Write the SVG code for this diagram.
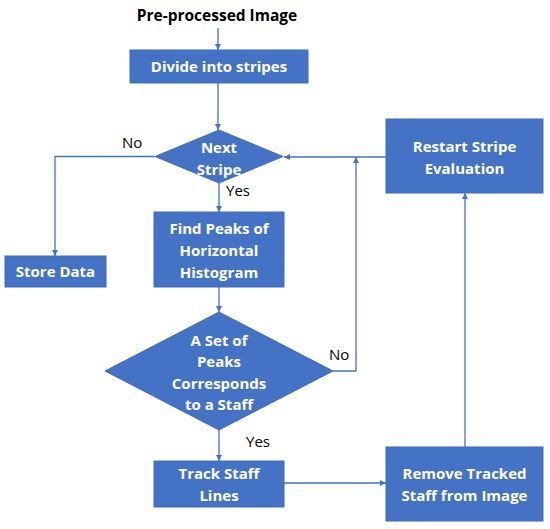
<svg xmlns="http://www.w3.org/2000/svg" width="550" height="529" viewBox="0 0 550 529">
<style>
.box{fill:#4472C4;stroke:#3F6CBD;stroke-width:1}
.t{font-family:"Open Sans","Liberation Sans",sans-serif;font-weight:bold;font-size:15px;fill:#fff;text-anchor:middle}
.k{font-family:"Open Sans","Liberation Sans",sans-serif;font-size:15px;fill:#000}
.c{fill:none;stroke:#4472C4;stroke-width:1.3}
</style>
<defs>
<marker id="a" viewBox="0 0 10 10" refX="10" refY="5" markerWidth="6" markerHeight="6" orient="auto" markerUnits="userSpaceOnUse">
<path d="M0,0 L10,5 L0,10 z" fill="#4472C4"/>
</marker>
</defs>
<rect width="550" height="529" fill="#fff"/>
<text x="217" y="21" class="k" style="font-weight:bold;text-anchor:middle;font-size:15.5px">Pre-processed Image</text>
<g id="connectors">
<path class="c" d="M218,28 V50" marker-end="url(#a)"/>
<path class="c" d="M218,83 V130" marker-end="url(#a)"/>
<path class="c" d="M155,156.5 H55 V256" marker-end="url(#a)"/>
<path class="c" d="M386,157 H284" marker-end="url(#a)"/>
<path class="c" d="M219,183 V212" marker-end="url(#a)"/>
<path class="c" d="M219,287 V312" marker-end="url(#a)"/>
<path class="c" d="M333,371 H356 V157" marker-end="url(#a)"/>
<path class="c" d="M219,430 V461" marker-end="url(#a)"/>
<path class="c" d="M284,483 H386" marker-end="url(#a)"/>
<path class="c" d="M465,447 V193" marker-end="url(#a)"/>
</g>
<g id="divide"><rect class="box" x="130" y="50" width="178" height="33"/><text class="t" x="219" y="72">Divide into stripes</text></g>
<g id="next"><path class="box" d="M219,130 L283,156.5 L219,183 L155,156.5 z"/><text class="t" x="219" y="153">Next</text><text class="t" x="219" y="175">Stripe</text></g>
<g id="store"><rect class="box" x="5" y="256" width="101" height="31"/><text class="t" x="55.5" y="277">Store Data</text></g>
<g id="restart"><rect class="box" x="386" y="119" width="157" height="74"/><text class="t" x="464.5" y="152">Restart Stripe</text><text class="t" x="464.5" y="174">Evaluation</text></g>
<g id="find"><rect class="box" x="154" y="212" width="130" height="75"/><text class="t" x="219" y="234">Find Peaks of</text><text class="t" x="219" y="256">Horizontal</text><text class="t" x="219" y="278">Histogram</text></g>
<g id="set"><path class="box" d="M219,312 L333,371 L219,430 L105,371 z"/><text class="t" x="219" y="346">A Set of</text><text class="t" x="219" y="367">Peaks</text><text class="t" x="219" y="389">Corresponds</text><text class="t" x="219" y="410">to a Staff</text></g>
<g id="track"><rect class="box" x="154" y="461" width="130" height="46"/><text class="t" x="219" y="479">Track Staff</text><text class="t" x="219" y="501">Lines</text></g>
<g id="remove"><rect class="box" x="386" y="447" width="157" height="74"/><text class="t" x="464.5" y="479">Remove Tracked</text><text class="t" x="464.5" y="501">Staff from Image</text></g>
<g id="labels">
<text class="k" x="122" y="148">No</text>
<text class="k" x="226" y="196">Yes</text>
<text class="k" x="329" y="360">No</text>
<text class="k" x="246" y="447">Yes</text>
</g>
</svg>
